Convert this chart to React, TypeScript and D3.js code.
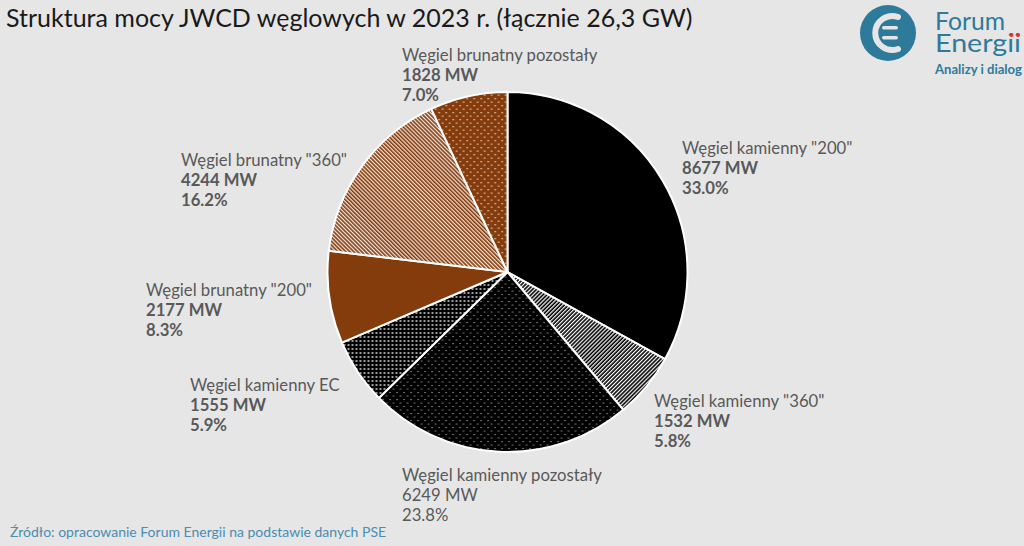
import React from "react";
import * as d3 from "d3";

const categories = [
  'Węgiel kamienny "200"',
  'Węgiel kamienny "360"',
  "Węgiel kamienny pozostały",
  "Węgiel kamienny EC",
  'Węgiel brunatny "200"',
  'Węgiel brunatny "360"',
  "Węgiel brunatny pozostały",
];
const valuesMW = [8677, 1532, 6249, 1555, 2177, 4244, 1828];
const percentLabels = ["33.0%", "5.8%", "23.8%", "5.9%", "8.3%", "16.2%", "7.0%"];
const boldValues = [true, true, false, true, true, true, true];

const fills = [
  "#000000",
  "url(#pHatchBlack)",
  "url(#pDotsBlack)",
  "url(#pCheckBlack)",
  "#843c0c",
  "url(#pHatchBrown)",
  "url(#pDotsBrown)",
];

// label anchor positions (left x, first line baseline)
const labelPos: [number, number][] = [
  [682, 154],
  [654, 407],
  [402, 481],
  [190, 391],
  [146, 296],
  [181, 166],
  [402, 61],
];

const W = 1024;
const H = 546;
const cx = 507.5;
const cy = 272;
const R = 180;

export default function App() {
  const pie = d3
    .pie<number>()
    .value((d) => d)
    .sort(null)
    .startAngle(0)
    .endAngle(2 * Math.PI);
  const arcs = pie(valuesMW);
  const arc = d3.arc<d3.PieArcDatum<number>>().innerRadius(0).outerRadius(R);
  const font = "Lato, 'Open Sans', sans-serif";
  const brown = "#843c0c";
  const teal = "#2e7a9a";
  return (
    <svg
      width={W}
      height={H}
      style={{ position: "absolute", left: 0, top: 0, display: "block" }}
    >
      <defs>
        <pattern id="pHatchBlack" width="2.8" height="2.8" patternUnits="userSpaceOnUse" patternTransform="rotate(-45)">
          <rect width="2.8" height="2.8" fill="#000" />
          <rect width="2.8" height="1.2" fill="#ffffff" />
        </pattern>
        <pattern id="pDotsBlack" width="7" height="7" patternUnits="userSpaceOnUse">
          <rect width="7" height="7" fill="#000" />
          <rect x="1" y="1" width="1.1" height="1.1" fill="#bdbdbd" />
          <rect x="4.5" y="4.5" width="1.1" height="1.1" fill="#bdbdbd" />
        </pattern>
        <pattern id="pCheckBlack" width="4" height="4" patternUnits="userSpaceOnUse">
          <rect width="4" height="4" fill="#000" />
          <rect x="0" y="0" width="2" height="2" fill="#9a9a9a" />
        </pattern>
        <pattern id="pHatchBrown" width="2.8" height="2.8" patternUnits="userSpaceOnUse" patternTransform="rotate(45)">
          <rect width="2.8" height="2.8" fill={brown} />
          <rect width="2.8" height="1.2" fill="#f2e6df" />
        </pattern>
        <pattern id="pDotsBrown" width="7" height="7" patternUnits="userSpaceOnUse">
          <rect width="7" height="7" fill={brown} />
          <rect x="1" y="1" width="1.3" height="1.3" fill="#f0d8c8" />
          <rect x="4.5" y="4.5" width="1.3" height="1.3" fill="#f0d8c8" />
        </pattern>
      </defs>
      <rect width={W} height={H} fill="#e6e6e6" />
      <text x={6} y={27} fontFamily={font} fontSize={25} fill="#1a1a1a">
        Struktura mocy JWCD węglowych w 2023 r. (łącznie 26,3 GW)
      </text>

      <g transform={`translate(${cx},${cy})`}>
        {arcs.map((a, i) => (
          <path key={i} d={arc(a) || ""} fill={fills[i]} stroke="#ffffff" strokeWidth={2} strokeLinejoin="round" />
        ))}
      </g>

      {categories.map((c, i) => {
        const [x, y] = labelPos[i];
        const fw = boldValues[i] ? 700 : 400;
        return (
          <text key={c} fontFamily={font} fontSize={16.7} fill="#595959">
            <tspan x={x} y={y}>{c}</tspan>
            <tspan x={x} y={y + 20} fontWeight={fw}>{`${valuesMW[i]} MW`}</tspan>
            <tspan x={x} y={y + 40} fontWeight={fw}>{percentLabels[i]}</tspan>
          </text>
        );
      })}

      <g>
        <circle cx={888} cy={33} r={28} fill={teal} />
        <path
          d="M 898 17 A 17 17 0 1 0 898 49"
          fill="none"
          stroke="#e6e6e6"
          strokeWidth={6}
          strokeLinecap="round"
        />
        <rect x={882} y={26} width={16} height={3.5} rx={1.7} fill="#e6e6e6" />
        <rect x={882} y={36} width={16} height={3.5} rx={1.7} fill="#e6e6e6" />
        <text fontFamily={font} fontSize={25} fill={teal}>
          <tspan x={935} y={30} textLength={70} lengthAdjust="spacingAndGlyphs">Forum</tspan>
          <tspan x={935} y={52} textLength={86} lengthAdjust="spacingAndGlyphs">Energii</tspan>
        </text>
        <circle cx={1011.5} cy={35} r={2} fill="#e03030" />
        <circle cx={1018} cy={35} r={2} fill="#e03030" />
        <text x={935} y={74} fontFamily={font} fontSize={12.5} fill={teal} fontWeight={700} textLength={87} lengthAdjust="spacingAndGlyphs">Analizy i dialog</text>
      </g>

      <text x={10} y={537} fontFamily={font} fontSize={14} fill="#4a8db0">
        Źródło: opracowanie Forum Energii na podstawie danych PSE
      </text>
    </svg>
  );
}
